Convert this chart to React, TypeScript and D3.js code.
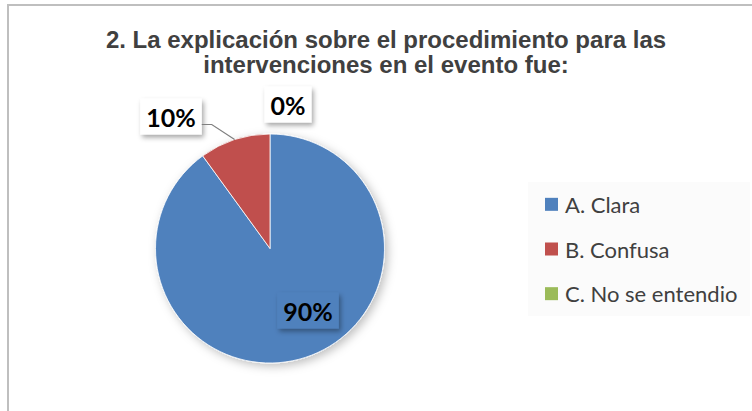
import React, { useEffect, useRef } from 'react';
import * as d3 from 'd3';

const width = 752;
const height = 411;

const titleLines = ['2. La explicación sobre el procedimiento para las', 'intervenciones en el evento fue:'];
const categories = ['A. Clara', 'B. Confusa', 'C. No se entendio'];
const values = [90, 10, 0];
const colors = ['#4f81bd', '#c0504d', '#9bbb59'];
// where each data label box sits, relative to the pie centre
const labelOffsets = [[38, 62], [-99, -132], [18, -144]];

const cx = 270;
const cy = 248.5;
const radius = 114.5;

export default function App() {
    const ref = useRef<SVGSVGElement>(null);

    useEffect(() => {
        const svg = d3.select(ref.current);
        svg.selectAll('*').remove();

        const defs = svg.append('defs');
        defs.append('filter').attr('id', 'pie-shadow')
            .attr('x', '-20%').attr('y', '-20%').attr('width', '140%').attr('height', '140%')
            .append('feDropShadow')
            .attr('dx', 3).attr('dy', 3).attr('stdDeviation', 5)
            .attr('flood-color', '#000').attr('flood-opacity', 0.25);
        defs.append('filter').attr('id', 'box-shadow')
            .attr('x', '-30%').attr('y', '-30%').attr('width', '160%').attr('height', '160%')
            .append('feDropShadow')
            .attr('dx', 2).attr('dy', 3).attr('stdDeviation', 2.5)
            .attr('flood-color', '#000').attr('flood-opacity', 0.35);

        // frame
        svg.append('rect')
            .attr('x', 8).attr('y', 5)
            .attr('width', width + 20).attr('height', height + 20)
            .attr('fill', '#fff')
            .attr('stroke', '#bfbfbf').attr('stroke-width', 2);

        // title
        svg.append('g')
            .selectAll('text')
            .data(titleLines)
            .join('text')
            .attr('x', 386)
            .attr('y', (d, i) => 48 + i * 25)
            .attr('text-anchor', 'middle')
            .attr('font-family', '"Liberation Sans", Arial, sans-serif')
            .attr('font-weight', 'bold')
            .attr('font-size', 24)
            .attr('fill', '#404040')
            .text(d => d);

        // pie
        const pie = d3.pie<number>().sort(null).value(d => d);
        const arcs = pie(values);
        const arc = d3.arc<d3.PieArcDatum<number>>().innerRadius(0).outerRadius(radius);

        const g = svg.append('g').attr('transform', `translate(${cx},${cy})`);
        g.append('g')
            .attr('filter', 'url(#pie-shadow)')
            .selectAll('path')
            .data(arcs)
            .join('path')
            .attr('d', arc)
            .attr('fill', (d, i) => colors[i])
            .attr('stroke', '#fff')
            .attr('stroke-width', d => d.value > 0 ? 0.8 : 0);

        // data labels
        const fmt = (v: number) => `${Math.round(v / d3.sum(values) * 100)}%`;
        const labels = g.append('g')
            .selectAll('g')
            .data(arcs)
            .join('g')
            .attr('transform', (d, i) => `translate(${labelOffsets[i][0]},${labelOffsets[i][1]})`);

        const boxes = labels.append('rect')
            .attr('fill', (d, i) => i === 0 ? colors[0] : '#fff')
            .attr('filter', 'url(#box-shadow)');

        labels.append('text')
            .attr('text-anchor', 'middle')
            .attr('dominant-baseline', 'central')
            .attr('font-family', 'Lato, "Open Sans", sans-serif')
            .attr('font-weight', 'bold')
            .attr('font-size', 25)
            .attr('fill', '#000')
            .text(d => fmt(d.value));

        const boxW: number[] = [];
        labels.each(function (d, i) {
            const t = d3.select(this).select('text').node() as SVGTextElement;
            boxW[i] = t.getComputedTextLength() + 12;
        });
        boxes
            .attr('x', (d, i) => -boxW[i] / 2)
            .attr('y', -18)
            .attr('width', (d, i) => boxW[i])
            .attr('height', 36);

        // leader line for the small slice
        const b = arcs[1];
        const mid = (b.startAngle + b.endAngle) / 2;
        const edge: [number, number] = [Math.sin(mid) * radius, -Math.cos(mid) * radius];
        const start: [number, number] = [labelOffsets[1][0] + boxW[1] / 2, labelOffsets[1][1] + 8];
        g.append('path')
            .attr('d', d3.line()([start, [start[0] + 10, start[1]], edge]))
            .attr('fill', 'none')
            .attr('stroke', '#7f7f7f')
            .attr('stroke-width', 1.2);

        // legend
        const y = d3.scaleBand().domain(categories).range([182, 316]);
        const legend = svg.append('g');
        legend.append('rect')
            .attr('x', 528).attr('y', 182)
            .attr('width', 222).attr('height', 134)
            .attr('fill', '#fbfbfb');
        const items = legend.selectAll('g.item')
            .data(categories)
            .join('g')
            .attr('class', 'item')
            .attr('transform', d => `translate(545,${y(d)! + y.bandwidth() / 2})`);
        items.append('rect')
            .attr('x', 0).attr('y', -6.5)
            .attr('width', 13).attr('height', 13)
            .attr('fill', (d, i) => colors[i]);
        items.append('text')
            .attr('x', 20)
            .attr('dominant-baseline', 'central')
            .attr('font-family', 'Lato, "Open Sans", sans-serif')
            .attr('font-size', 22)
            .attr('fill', '#404040')
            .text(d => d);
    }, []);

    return (
        <svg ref={ref} width={width} height={height}
            style={{ position: 'absolute', left: 0, top: 0, background: '#fff' }} />
    );
}
